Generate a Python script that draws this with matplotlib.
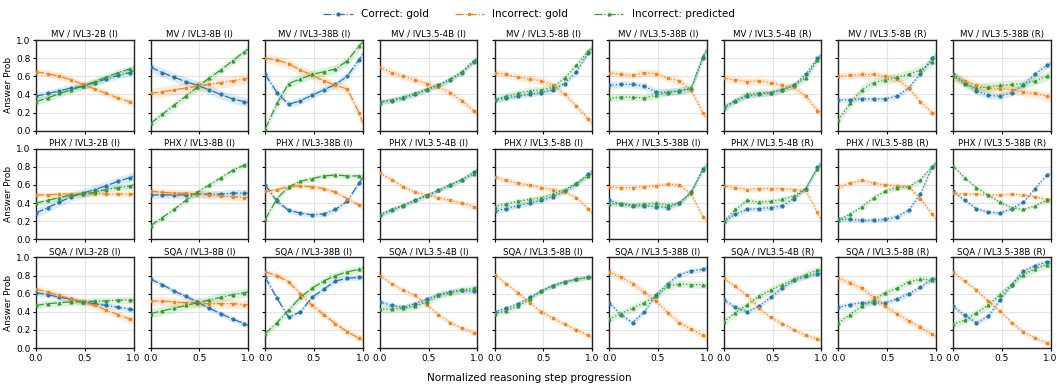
"""Answer probability along normalized reasoning steps, 3 datasets x 9 models."""

import matplotlib
matplotlib.use("Agg")
from matplotlib import pyplot as plt

DATASETS = ["MV", "PHX", "SQA"]
MODELS = [
    "IVL3-2B (I)", "IVL3-8B (I)", "IVL3-38B (I)",
    "IVL3.5-4B (I)", "IVL3.5-8B (I)", "IVL3.5-38B (I)",
    "IVL3.5-4B (R)", "IVL3.5-8B (R)", "IVL3.5-38B (R)",
]
STEP_X = [0.0, 0.12, 0.24, 0.36, 0.48, 0.60, 0.72, 0.84, 0.96, 1.0]
X_TICKS = [0.0, 0.5, 1.0]
Y_TICKS = [0.0, 0.2, 0.4, 0.6, 0.8, 1.0]

# rows of each list follow MODELS
MV_CORRECT = [
    [0.38, 0.41, 0.44, 0.47, 0.49, 0.53, 0.57, 0.61, 0.64, 0.66],
    [0.70, 0.64, 0.59, 0.54, 0.50, 0.45, 0.40, 0.35, 0.32, 0.31],
    [0.62, 0.42, 0.29, 0.33, 0.39, 0.45, 0.51, 0.60, 0.78, 0.85],
    [0.32, 0.33, 0.36, 0.40, 0.45, 0.50, 0.56, 0.64, 0.76, 0.79],
    [0.34, 0.36, 0.38, 0.40, 0.42, 0.45, 0.52, 0.65, 0.86, 0.90],
    [0.50, 0.51, 0.51, 0.49, 0.43, 0.42, 0.44, 0.46, 0.80, 0.88],
    [0.26, 0.33, 0.38, 0.40, 0.42, 0.45, 0.50, 0.62, 0.80, 0.84],
    [0.34, 0.34, 0.35, 0.35, 0.35, 0.38, 0.47, 0.63, 0.80, 0.84],
    [0.62, 0.53, 0.44, 0.39, 0.38, 0.42, 0.50, 0.62, 0.72, 0.74],
]
MV_INC_GOLD = [
    [0.65, 0.63, 0.60, 0.56, 0.51, 0.46, 0.41, 0.36, 0.32, 0.31],
    [0.41, 0.43, 0.45, 0.47, 0.49, 0.51, 0.53, 0.55, 0.57, 0.58],
    [0.80, 0.78, 0.74, 0.67, 0.61, 0.55, 0.50, 0.46, 0.20, 0.08],
    [0.70, 0.64, 0.60, 0.56, 0.52, 0.48, 0.42, 0.33, 0.22, 0.18],
    [0.64, 0.62, 0.59, 0.57, 0.55, 0.50, 0.40, 0.27, 0.13, 0.09],
    [0.64, 0.62, 0.61, 0.64, 0.63, 0.58, 0.55, 0.45, 0.20, 0.13],
    [0.58, 0.56, 0.54, 0.55, 0.53, 0.50, 0.48, 0.38, 0.22, 0.20],
    [0.60, 0.61, 0.62, 0.62, 0.60, 0.57, 0.47, 0.32, 0.20, 0.18],
    [0.60, 0.55, 0.50, 0.47, 0.46, 0.45, 0.43, 0.41, 0.38, 0.37],
]
MV_INC_PRED = [
    [0.32, 0.36, 0.41, 0.45, 0.49, 0.54, 0.59, 0.64, 0.68, 0.70],
    [0.08, 0.18, 0.28, 0.38, 0.48, 0.58, 0.67, 0.77, 0.87, 0.90],
    [0.02, 0.30, 0.52, 0.57, 0.62, 0.65, 0.68, 0.77, 0.93, 0.98],
    [0.31, 0.34, 0.37, 0.41, 0.46, 0.50, 0.57, 0.65, 0.77, 0.80],
    [0.34, 0.38, 0.41, 0.44, 0.45, 0.48, 0.58, 0.72, 0.88, 0.92],
    [0.36, 0.37, 0.37, 0.36, 0.39, 0.43, 0.44, 0.47, 0.82, 0.90],
    [0.25, 0.33, 0.40, 0.42, 0.42, 0.45, 0.50, 0.58, 0.78, 0.82],
    [0.12, 0.30, 0.45, 0.53, 0.56, 0.59, 0.62, 0.67, 0.76, 0.80],
    [0.60, 0.52, 0.47, 0.48, 0.50, 0.51, 0.52, 0.55, 0.60, 0.62],
]

PHX_CORRECT = [
    [0.29, 0.35, 0.41, 0.47, 0.51, 0.55, 0.59, 0.64, 0.68, 0.70],
    [0.49, 0.49, 0.49, 0.49, 0.50, 0.50, 0.50, 0.51, 0.51, 0.51],
    [0.60, 0.42, 0.32, 0.29, 0.27, 0.28, 0.33, 0.42, 0.62, 0.68],
    [0.27, 0.32, 0.37, 0.43, 0.48, 0.54, 0.60, 0.66, 0.74, 0.77],
    [0.31, 0.34, 0.37, 0.40, 0.43, 0.47, 0.53, 0.61, 0.72, 0.76],
    [0.43, 0.39, 0.37, 0.37, 0.36, 0.35, 0.40, 0.52, 0.78, 0.83],
    [0.19, 0.28, 0.33, 0.34, 0.35, 0.37, 0.45, 0.56, 0.80, 0.85],
    [0.22, 0.22, 0.21, 0.21, 0.22, 0.25, 0.32, 0.50, 0.80, 0.85],
    [0.53, 0.43, 0.34, 0.30, 0.29, 0.34, 0.41, 0.56, 0.71, 0.73],
]
PHX_INC_GOLD = [
    [0.49, 0.49, 0.50, 0.50, 0.50, 0.50, 0.50, 0.50, 0.50, 0.50],
    [0.53, 0.52, 0.51, 0.51, 0.50, 0.49, 0.48, 0.47, 0.46, 0.46],
    [0.53, 0.55, 0.58, 0.59, 0.58, 0.56, 0.52, 0.45, 0.38, 0.36],
    [0.73, 0.66, 0.58, 0.52, 0.49, 0.46, 0.43, 0.40, 0.36, 0.34],
    [0.69, 0.65, 0.62, 0.60, 0.57, 0.55, 0.52, 0.46, 0.34, 0.29],
    [0.58, 0.57, 0.57, 0.58, 0.59, 0.61, 0.60, 0.50, 0.25, 0.20],
    [0.59, 0.57, 0.55, 0.56, 0.56, 0.56, 0.55, 0.54, 0.30, 0.20],
    [0.58, 0.62, 0.65, 0.62, 0.60, 0.59, 0.58, 0.45, 0.28, 0.22],
    [0.51, 0.50, 0.50, 0.49, 0.49, 0.50, 0.49, 0.47, 0.44, 0.43],
]
PHX_INC_PRED = [
    [0.40, 0.43, 0.46, 0.49, 0.50, 0.52, 0.55, 0.57, 0.59, 0.60],
    [0.15, 0.24, 0.33, 0.43, 0.52, 0.60, 0.68, 0.76, 0.82, 0.84],
    [0.22, 0.45, 0.58, 0.64, 0.67, 0.70, 0.71, 0.70, 0.70, 0.70],
    [0.27, 0.33, 0.38, 0.43, 0.49, 0.54, 0.60, 0.66, 0.72, 0.75],
    [0.36, 0.39, 0.42, 0.44, 0.46, 0.50, 0.55, 0.62, 0.70, 0.73],
    [0.39, 0.39, 0.38, 0.39, 0.40, 0.38, 0.40, 0.52, 0.76, 0.80],
    [0.20, 0.33, 0.43, 0.41, 0.42, 0.44, 0.48, 0.56, 0.78, 0.83],
    [0.21, 0.28, 0.36, 0.46, 0.53, 0.57, 0.58, 0.66, 0.80, 0.83],
    [0.81, 0.68, 0.57, 0.49, 0.41, 0.35, 0.33, 0.37, 0.43, 0.44],
]

SQA_CORRECT = [
    [0.61, 0.59, 0.56, 0.54, 0.51, 0.49, 0.47, 0.45, 0.43, 0.42],
    [0.76, 0.70, 0.63, 0.57, 0.51, 0.44, 0.38, 0.32, 0.27, 0.25],
    [0.78, 0.55, 0.34, 0.40, 0.56, 0.65, 0.74, 0.77, 0.78, 0.78],
    [0.51, 0.47, 0.45, 0.49, 0.54, 0.59, 0.62, 0.64, 0.63, 0.63],
    [0.40, 0.44, 0.49, 0.56, 0.63, 0.69, 0.73, 0.76, 0.78, 0.78],
    [0.50, 0.37, 0.28, 0.40, 0.59, 0.71, 0.81, 0.85, 0.87, 0.88],
    [0.53, 0.45, 0.40, 0.46, 0.56, 0.66, 0.75, 0.79, 0.82, 0.82],
    [0.45, 0.48, 0.50, 0.50, 0.50, 0.54, 0.60, 0.67, 0.76, 0.76],
    [0.46, 0.36, 0.28, 0.35, 0.53, 0.70, 0.85, 0.91, 0.95, 0.96],
]
SQA_INC_GOLD = [
    [0.65, 0.62, 0.58, 0.54, 0.51, 0.47, 0.42, 0.37, 0.32, 0.30],
    [0.52, 0.52, 0.51, 0.50, 0.50, 0.49, 0.49, 0.49, 0.48, 0.48],
    [0.84, 0.80, 0.73, 0.60, 0.47, 0.37, 0.27, 0.18, 0.11, 0.09],
    [0.80, 0.71, 0.64, 0.58, 0.48, 0.37, 0.28, 0.22, 0.17, 0.16],
    [0.81, 0.71, 0.61, 0.50, 0.40, 0.33, 0.26, 0.20, 0.14, 0.12],
    [0.84, 0.78, 0.71, 0.62, 0.52, 0.39, 0.28, 0.21, 0.14, 0.11],
    [0.77, 0.68, 0.58, 0.44, 0.34, 0.27, 0.20, 0.14, 0.10, 0.09],
    [0.77, 0.72, 0.66, 0.56, 0.46, 0.38, 0.30, 0.23, 0.15, 0.13],
    [0.84, 0.74, 0.64, 0.52, 0.41, 0.28, 0.18, 0.11, 0.06, 0.05],
]
SQA_INC_PRED = [
    [0.47, 0.49, 0.50, 0.51, 0.51, 0.52, 0.52, 0.53, 0.53, 0.53],
    [0.38, 0.41, 0.44, 0.47, 0.50, 0.53, 0.56, 0.59, 0.61, 0.62],
    [0.16, 0.28, 0.42, 0.56, 0.66, 0.74, 0.80, 0.84, 0.87, 0.88],
    [0.43, 0.43, 0.44, 0.46, 0.51, 0.58, 0.61, 0.64, 0.66, 0.67],
    [0.38, 0.41, 0.46, 0.54, 0.63, 0.69, 0.73, 0.76, 0.78, 0.78],
    [0.32, 0.38, 0.44, 0.50, 0.57, 0.68, 0.71, 0.70, 0.70, 0.69],
    [0.29, 0.39, 0.48, 0.57, 0.64, 0.70, 0.76, 0.81, 0.86, 0.86],
    [0.28, 0.37, 0.46, 0.53, 0.61, 0.66, 0.73, 0.76, 0.75, 0.75],
    [0.26, 0.31, 0.39, 0.47, 0.59, 0.70, 0.81, 0.87, 0.92, 0.93],
]

# half-width of the shaded band per model: (correct, incorrect gold, incorrect pred)
MV_BAND = [(0.04, 0.04, 0.04), (0.05, 0.06, 0.04), (0.04, 0.05, 0.05),
           (0.03, 0.04, 0.03), (0.03, 0.04, 0.04), (0.04, 0.04, 0.04),
           (0.03, 0.04, 0.04), (0.03, 0.04, 0.05), (0.04, 0.05, 0.05)]
PHX_BAND = [(0.05, 0.03, 0.03), (0.04, 0.04, 0.03), (0.03, 0.03, 0.03),
            (0.03, 0.03, 0.02), (0.03, 0.03, 0.03), (0.03, 0.03, 0.03),
            (0.03, 0.03, 0.03), (0.03, 0.03, 0.03), (0.02, 0.02, 0.02)]
SQA_BAND = [(0.03, 0.04, 0.04), (0.03, 0.05, 0.05), (0.03, 0.04, 0.04),
            (0.03, 0.03, 0.04), (0.02, 0.03, 0.03), (0.03, 0.04, 0.04),
            (0.03, 0.03, 0.04), (0.03, 0.04, 0.04), (0.03, 0.03, 0.04)]

DATA = {
    "MV": (MV_CORRECT, MV_INC_GOLD, MV_INC_PRED, MV_BAND),
    "PHX": (PHX_CORRECT, PHX_INC_GOLD, PHX_INC_PRED, PHX_BAND),
    "SQA": (SQA_CORRECT, SQA_INC_GOLD, SQA_INC_PRED, SQA_BAND),
}

SERIES = [
    ("Correct: gold", "#1f77b4", "o", 2.0),
    ("Incorrect: gold", "#ff7f0e", "s", 1.4),
    ("Incorrect: predicted", "#2ca02c", "^", 2.0),
]

plt.rcParams["font.family"] = "DejaVu Sans"
fig, axes = plt.subplots(3, 9, figsize=(10.58, 3.85), dpi=100, sharex=True, sharey=True)
fig.subplots_adjust(left=0.034, right=0.993, top=0.896, bottom=0.096, wspace=0.175, hspace=0.2)

handles = []
for r, dataset in enumerate(DATASETS):
    correct, inc_gold, inc_pred, bands = DATA[dataset]
    for c, model in enumerate(MODELS):
        ax = axes[r, c]
        ls = "-." if model.startswith("IVL3-") else ":"
        for s, (label, color, marker, ms) in enumerate(SERIES):
            ys = [correct, inc_gold, inc_pred][s][c]
            hw = bands[c][s]
            ax.fill_between(STEP_X, [y - hw for y in ys], [y + hw for y in ys],
                            color=color, alpha=0.15, linewidth=0, zorder=2)
            (line,) = ax.plot(STEP_X, ys, color=color, linestyle=ls, linewidth=0.9,
                              marker=marker, markersize=ms, markevery=list(range(9)),
                              label=label, zorder=3)
            if r == 0 and c == 0:
                handles.append(line)
        ax.set_title(f"{dataset} / {model}", fontsize=6.2, pad=2)
        ax.set_xlim(0, 1)
        ax.set_ylim(0, 1)
        ax.set_xticks(X_TICKS)
        ax.set_yticks(Y_TICKS)
        ax.grid(True, color="#e4e4e4", linewidth=0.8, zorder=0)
        ax.tick_params(labelsize=6.5, length=2.5, width=0.8, pad=1.5)
        for spine in ax.spines.values():
            spine.set_linewidth(1.0)
            spine.set_color("#222222")
    axes[r, 0].set_ylabel("Answer Prob", fontsize=6.5, labelpad=2)

fig.legend(handles=handles, loc="upper center", bbox_to_anchor=(0.5, 1.0), ncol=3,
           frameon=False, fontsize=7.5, handlelength=2.8, columnspacing=2.5)
fig.text(0.5, 0.01, "Normalized reasoning step progression", ha="center", fontsize=7.5)

fig.savefig("out.png", dpi=100)
